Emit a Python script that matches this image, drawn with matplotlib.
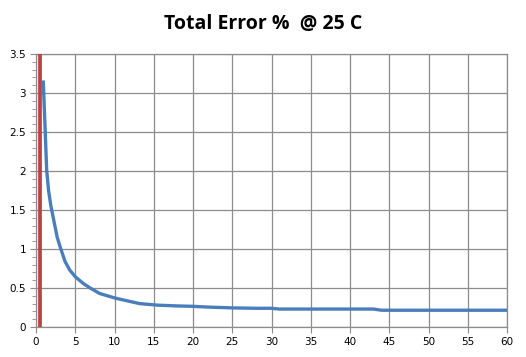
import numpy as np
import matplotlib.pyplot as plt
from matplotlib.ticker import MultipleLocator

# values
x_vals = [0.93, 1.15, 1.36, 1.6, 1.9, 2.3, 2.7, 3.1, 3.7, 4.3, 5.0, 6.0, 6.9, 8.1,
          10.1, 13.2, 15.5, 18.0, 20.0, 22.0, 25.0, 28.0, 30.0, 31.0,
          35.0, 40.0, 43.0, 44.0, 50.0, 55.0, 60.0]
err_vals = [3.14, 2.57, 2.01, 1.75, 1.55, 1.35, 1.15, 1.02, 0.84, 0.73, 0.645, 0.56,
            0.50, 0.43, 0.37, 0.30, 0.28, 0.27, 0.265, 0.255, 0.245, 0.24,
            0.24, 0.23, 0.23, 0.23, 0.23, 0.215, 0.215, 0.215, 0.215]
marker_x = 0.5

fig = plt.figure(figsize=(5.26, 3.57), dpi=100)
ax = fig.add_axes([36/526, 1-327/357, 471/526, 273/357])

ax.plot(x_vals, err_vals, color='#4A7EBB', lw=2.4, solid_joinstyle='round', zorder=3)
ax.axvline(marker_x, color='#B84542', lw=2.7, zorder=4)

ax.set_xlim(0, 60)
ax.set_ylim(0, 3.5)
ax.xaxis.set_major_locator(MultipleLocator(5))
ax.yaxis.set_minor_locator(MultipleLocator(0.1))
ax.set_yticks([0, 0.5, 1, 1.5, 2, 2.5, 3, 3.5])
ax.set_yticklabels(['0', '0.5', '1', '1.5', '2', '2.5', '3', '3.5'])
ax.grid(True, which='major', color='#8C8C8C', lw=0.9)
ax.set_axisbelow(True)
for s in ax.spines.values():
    s.set_color('#8C8C8C')
    s.set_linewidth(0.9)
ax.tick_params(which='major', direction='out', length=4, color='#8C8C8C',
               labelsize=7.5, pad=3)
ax.tick_params(which='minor', direction='out', length=3, color='#8C8C8C')

fig.suptitle('Total Error %  @ 25 C', fontsize=14, fontweight='bold',
             family='Open Sans', y=0.96)

fig.savefig('out.png', dpi=100)
